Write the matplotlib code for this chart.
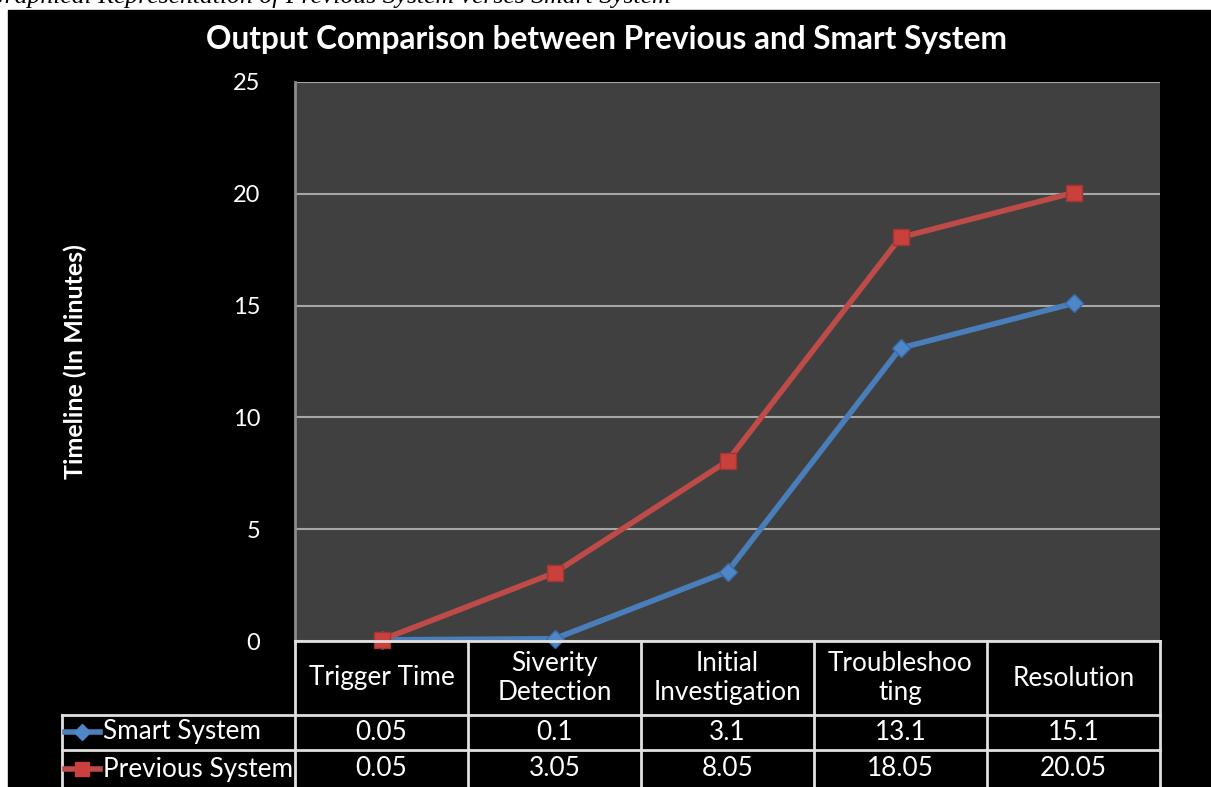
import matplotlib
matplotlib.use("Agg")
import matplotlib.pyplot as plt
from matplotlib.patches import Rectangle
from matplotlib.transforms import blended_transform_factory

plt.rcParams['font.family'] = ['Lato', 'DejaVu Sans']

# data
categories = ["Trigger Time", "Siverity\nDetection", "Initial\nInvestigation",
              "Troubleshoo\nting", "Resolution"]
smart = [0.05, 0.1, 3.1, 13.1, 15.1]
previous = [0.05, 3.05, 8.05, 18.05, 20.05]
smart_labels = ["0.05", "0.1", "3.1", "13.1", "15.1"]
previous_labels = ["0.05", "3.05", "8.05", "18.05", "20.05"]
yticks = [0, 5, 10, 15, 20, 25]

W, H = 1211, 787
fig = plt.figure(figsize=(W / 100, H / 100), dpi=100, facecolor="white")

# black chart background (page shows a cut caption above it)
fig.patches.append(Rectangle((8 / W, 0), 1 - 8 / W, 1 - 10 / H,
                             transform=fig.transFigure, color="black", zorder=-5))
fig.text(-14 / W, 1 - 3 / H,
         "Graphical Representation of Previous System verses Smart System",
         family="Liberation Serif", style="italic", fontsize=18.5, color="black",
         ha="left", va="baseline")

# main plot area
ax = fig.add_axes([295 / W, (H - 641) / H, 865 / W, (641 - 82) / H])
ax.set_facecolor("#404040")
ax.set_xlim(-0.5, 4.5)
ax.set_ylim(0, 25)
ax.set_yticks(yticks)
ax.set_xticks([])
ax.tick_params(axis="y", length=0, pad=25, labelcolor="white", labelsize=17)
ax.yaxis.grid(True, color="#a6a6a6", lw=1.5)
ax.set_axisbelow(True)
for s in ["top", "right", "bottom"]:
    ax.spines[s].set_visible(False)
ax.spines["left"].set_color("#8c8c8c")
ax.spines["left"].set_linewidth(2)

x = range(len(categories))
ax.plot(x, smart, color="#4a7ebb", lw=4, marker="D", ms=9,
        mfc="#4f86c6", mec="#3a6aa8", mew=1, zorder=3, clip_on=False)
ax.plot(x, previous, color="#be4b48", lw=4, marker="s", ms=12,
        mfc="#c9403d", mec="#a33532", mew=1, zorder=4, clip_on=False)

fig.text(606 / W, 1 - 40 / H, "Output Comparison between Previous and Smart System",
         color="white", fontsize=22.8, fontweight="bold", ha="center", va="center")
fig.text(75 / W, 1 - 362 / H, "Timeline (In Minutes)", color="white", fontsize=18,
         fontweight="bold", rotation=90, ha="center", va="center")

# data table under the plot
ov = fig.add_axes([0, 0, 1, 1], facecolor="none")
ov.set_xlim(0, W)
ov.set_ylim(H, 0)
ov.axis("off")
tr = blended_transform_factory(ax.transData, ov.transData)

px_per_cat = 865 / 5
left_edge = -0.5 - (295 - 62) / px_per_cat
lc = "#e0e0e0"
lw = 2
ov.plot([-0.5, 4.5], [641, 641], color=lc, lw=lw, transform=tr, clip_on=False)
for yy in [715, 750]:
    ov.plot([left_edge, 4.5], [yy, yy], color=lc, lw=lw, transform=tr, clip_on=False)
ov.plot([left_edge, left_edge], [715, 800], color=lc, lw=lw, transform=tr, clip_on=False)
for i in range(len(categories) + 1):
    ov.plot([i - 0.5, i - 0.5], [641, 800], color=lc, lw=lw, transform=tr, clip_on=False)

fs = 18.8
for i, c in enumerate(categories):
    ov.text(i, 678, c, color="white", fontsize=fs, ha="center", va="center",
            linespacing=1.2, transform=tr)
    ov.text(i, 732, smart_labels[i], color="white", fontsize=fs, ha="center",
            va="center", transform=tr)
    ov.text(i, 769, previous_labels[i], color="white", fontsize=fs, ha="center",
            va="center", transform=tr)

ov.plot([65, 100], [732, 732], color="#4a7ebb", lw=4)
ov.plot([82], [732], color="#4f86c6", marker="D", ms=8)
ov.plot([65, 100], [769, 769], color="#be4b48", lw=4)
ov.plot([82], [769], color="#c9403d", marker="s", ms=10)
ov.text(103, 732, "Smart System", color="white", fontsize=fs, ha="left", va="center")
ov.text(103, 769, "Previous System", color="white", fontsize=fs, ha="left", va="center")

fig.savefig("out.png", dpi=100, facecolor="white")
